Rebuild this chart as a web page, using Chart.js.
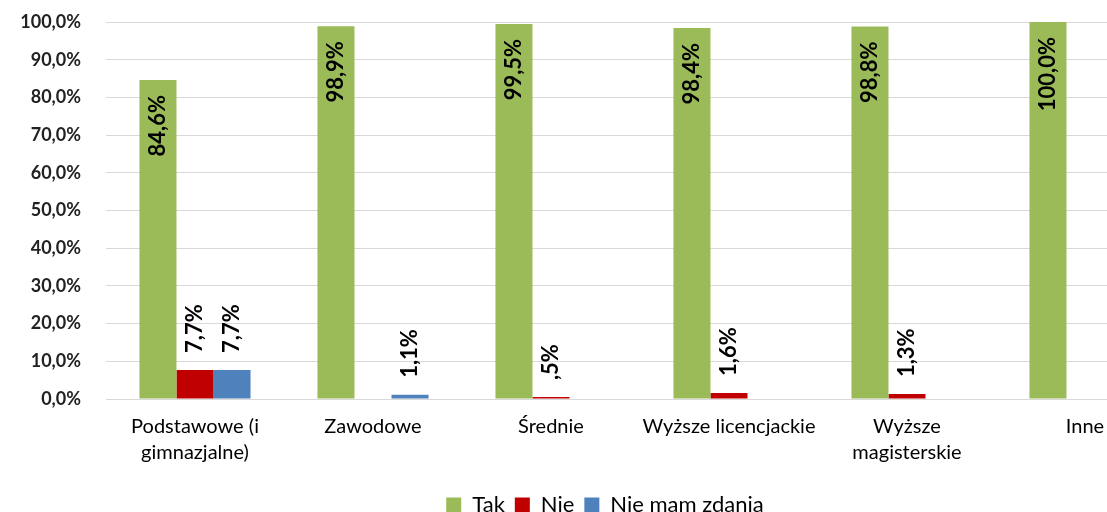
<!DOCTYPE html>
<html lang="pl">
<head>
<meta charset="utf-8">
<title>Wykształcenie a odpowiedzi</title>
<script src="https://cdn.jsdelivr.net/npm/chart.js@4/dist/chart.umd.min.js"></script>
<style>
  html, body { margin: 0; padding: 0; background: #ffffff; overflow: hidden; }
  #wrap { width: 1210px; height: 526px; }
</style>
</head>
<body>
<div id="wrap"><canvas id="chart" width="1210" height="526"></canvas></div>
<script>
// Education levels (x categories)
const categories = [
  ['Podstawowe (i', 'gimnazjalne)'],
  'Zawodowe',
  'Średnie',
  'Wyższe licencjackie',
  ['Wyższe', 'magisterskie'],
  'Inne'
];

// Share of answers per education level, in percent (null = no answer of that kind)
const takValues       = [84.6, 98.9, 99.5, 98.4, 98.8, 100.0];
const nieValues       = [7.7,  null, 0.5,  1.6,  1.3,  null];
const nieMamValues    = [7.7,  1.1,  null, null, null, null];

const seriesNames = ['Tak', 'Nie', 'Nie mam zdania'];

// Y axis: 0..100 % in steps of 10
const yMin = 0, yMax = 100, yStep = 10;

const FONT = 'Lato, "Open Sans", "DejaVu Sans", sans-serif';

// "84,6%" style, with Polish decimal comma; values below 1 lose the leading zero (",5%")
function fmtLabel(v) {
  let s = v.toFixed(1).replace('.', ',');
  if (s.startsWith('0,')) s = s.slice(1);
  return s + '%';
}
function fmtTick(v) {
  return v.toFixed(1).replace('.', ',') + '%';
}

// Vertical value labels: inside the top of tall bars, above the small ones
const valueLabels = {
  id: 'valueLabels',
  afterDatasetsDraw(chart) {
    const ctx = chart.ctx;
    ctx.save();
    ctx.font = 'bold 22px ' + FONT;
    ctx.fillStyle = '#000000';
    ctx.textBaseline = 'middle';
    chart.data.datasets.forEach((ds, di) => {
      const meta = chart.getDatasetMeta(di);
      if (meta.hidden) return;
      meta.data.forEach((bar, i) => {
        const v = ds.data[i];
        if (v === null || v === undefined) return;
        const inside = ds.labelInside;
        const y = inside ? bar.y + 15 : bar.y - 17;
        ctx.save();
        ctx.translate(bar.x, y);
        ctx.rotate(-Math.PI / 2);
        ctx.textAlign = inside ? 'right' : 'left';
        ctx.fillText(fmtLabel(v), 0, 0);
        ctx.restore();
      });
    });
    ctx.restore();
  }
};

new Chart(document.getElementById('chart'), {
  type: 'bar',
  data: {
    labels: categories,
    datasets: [
      { label: seriesNames[0], data: takValues,    backgroundColor: '#9BBB59', labelInside: true },
      { label: seriesNames[1], data: nieValues,    backgroundColor: '#C00000', labelInside: false },
      { label: seriesNames[2], data: nieMamValues, backgroundColor: '#4F81BD', labelInside: false }
    ]
  },
  options: {
    responsive: false,
    animation: false,
    devicePixelRatio: 1,
    layout: { padding: { top: 22, left: 0, right: 0, bottom: 0 } },
    datasets: {
      bar: { barPercentage: 1.0, categoryPercentage: 0.624, borderWidth: 0 }
    },
    scales: {
      x: {
        grid: { display: false, drawTicks: false },
        border: { display: true, color: '#d9d9d9', width: 1 },
        ticks: {
          color: '#000000',
          font: { family: FONT, size: 20, lineHeight: 1.3 },
          padding: 15,
          maxRotation: 0,
          minRotation: 0,
          autoSkip: false
        },
        afterFit(scale) { scale.height = 85; }
      },
      y: {
        min: yMin,
        max: yMax,
        grid: { color: '#d9d9d9', lineWidth: 1, drawTicks: false },
        border: { display: false },
        ticks: {
          stepSize: yStep,
          color: '#222222',
          font: { family: FONT, size: 18, weight: 'bold' },
          padding: 25,
          callback: (v) => fmtTick(v)
        },
        afterFit(scale) {
          scale.width = 106;
          scale.paddingTop = 0;
          scale.paddingBottom = 0;
        }
      },
      // empty right-hand margin of the plot
      yRight: {
        position: 'right',
        display: true,
        grid: { display: false, drawTicks: false },
        border: { display: false },
        ticks: { display: false },
        afterFit(scale) { scale.width = 36; }
      }
    },
    plugins: {
      legend: {
        position: 'bottom',
        labels: {
          color: '#000000',
          font: { family: FONT, size: 22 },
          boxWidth: 15,
          boxHeight: 15,
          padding: 10
        }
      },
      tooltip: { enabled: false }
    }
  },
  plugins: [valueLabels]
});
</script>
</body>
</html>
